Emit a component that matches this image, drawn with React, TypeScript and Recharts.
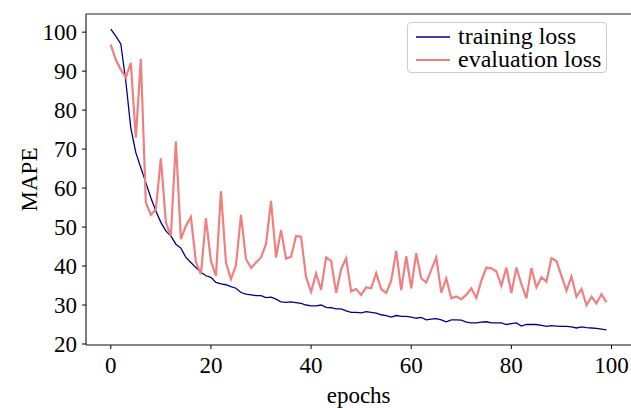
import React from "react";
import { LineChart, Line, XAxis, YAxis, ReferenceLine, Legend, Label } from "recharts";

const trainingLoss = [
  100.8, 99.0, 97.0, 87.4, 75.4, 69.1, 65.2, 61.4, 57.5, 54.1,
  51.2, 49.0, 47.7, 45.6, 44.6, 42.2, 40.9, 39.6, 38.4, 37.5,
  37.1, 35.8, 35.4, 35.2, 34.7, 34.3, 33.2, 32.8, 32.6, 32.4,
  32.4, 31.9, 32.0, 31.5, 30.8, 30.7, 30.8, 30.6, 30.4, 30.0,
  29.8, 29.8, 30.0, 29.4, 29.3, 29.0, 29.0, 28.5, 28.1, 28.1,
  28.0, 28.3, 28.1, 27.9, 27.5, 27.3, 26.9, 27.3, 27.1, 27.1,
  26.9, 26.6, 26.8, 26.2, 26.4, 26.5, 26.2, 25.7, 26.2, 26.2,
  26.1, 25.6, 25.4, 25.4, 25.6, 25.7, 25.4, 25.4, 25.4, 25.0,
  25.2, 25.4, 24.6, 25.0, 25.0, 25.0, 24.8, 24.5, 24.7, 24.6,
  24.5, 24.5, 24.4, 24.1, 24.4, 24.2, 24.1, 24.0, 23.8, 23.6,
];

const evaluationLoss = [
  96.8, 92.9, 90.4, 88.4, 92.1, 72.9, 93.1, 56.3, 53.1, 54.6,
  67.6, 51.2, 47.7, 72.0, 46.9, 50.3, 52.6, 41.0, 37.9, 52.3,
  41.3, 37.5, 59.2, 40.9, 36.6, 40.2, 53.1, 41.8, 39.5, 40.9,
  42.2, 45.6, 56.7, 42.2, 49.2, 41.9, 42.4, 47.7, 47.5, 37.1,
  33.4, 38.1, 33.9, 42.2, 41.3, 33.1, 39.2, 42.0, 33.5, 34.1,
  32.6, 34.5, 34.3, 38.2, 34.1, 33.1, 36.2, 43.9, 33.8, 42.5,
  34.3, 43.3, 36.8, 35.8, 39.0, 42.2, 33.2, 36.8, 31.7, 32.2,
  31.5, 32.6, 34.3, 31.8, 36.2, 39.6, 39.4, 38.6, 34.9, 39.6,
  33.1, 39.6, 35.4, 31.7, 39.5, 34.5, 37.1, 36.0, 42.0, 41.3,
  37.5, 33.7, 37.3, 32.1, 34.1, 30.0, 32.1, 30.4, 32.8, 30.7,
];

const seriesNames = ["training loss", "evaluation loss"];
const xTicks = [0, 20, 40, 60, 80, 100];
const yTicks = [20, 30, 40, 50, 60, 70, 80, 90, 100];
const xDomain: [number, number] = [-4.95, 103.95];
const yDomain: [number, number] = [19.74, 104.66];

const data = trainingLoss.map((t, i) => ({
  epoch: i,
  train: t,
  evalLoss: evaluationLoss[i],
}));

const FONT = '"Liberation Serif", "Times New Roman", serif';
const tickStyle = { fontSize: 23, fill: "#000", fontFamily: FONT };

const LegendBox = (props: any) => {
  const items = [...(props.payload || [])].sort(
    (a: any, b: any) => seriesNames.indexOf(a.value) - seriesNames.indexOf(b.value)
  );
  return (
    <div
      style={{
        position: "relative",
        width: 200,
        height: 51,
        border: "1px solid #cccccc",
        borderRadius: 4,
        background: "rgba(255,255,255,0.85)",
        boxSizing: "border-box",
        fontFamily: FONT,
        fontSize: 24,
        color: "#000",
      }}
    >
      {items.map((it: any, i: number) => (
        <div
          key={i}
          style={{ position: "absolute", left: 8, top: 1.5 + i * 23.3, height: 23, display: "flex", alignItems: "center", whiteSpace: "nowrap" }}
        >
          <svg width={34} height={4} style={{ marginRight: 8, marginTop: 2 }}>
            <line x1={0} y1={2} x2={34} y2={2} stroke={it.color} strokeWidth={i === 0 ? 1.3 : 2} />
          </svg>
          <span style={{ lineHeight: "23px", display: "block", height: 23 }}>{it.value}</span>
        </div>
      ))}
    </div>
  );
};

export default function App() {
  return (
    <div style={{ position: "absolute", left: 0, top: 0, width: 631, height: 408, overflow: "hidden", background: "#fff" }}>
      <LineChart
        width={640}
        height={408}
        data={data}
        margin={{ top: 14, right: 8.7, bottom: 0, left: 0 }}
        style={{ fontFamily: FONT }}
      >
        <XAxis
          dataKey="epoch"
          type="number"
          domain={xDomain}
          ticks={xTicks}
          allowDataOverflow
          height={63}
          tickSize={4}
          tickMargin={8}
          tick={tickStyle}
          stroke="#000"
          axisLine={{ stroke: "#111", strokeWidth: 1.1 }}
          tickLine={{ stroke: "#000" }}
        >
          <Label
            content={(p: any) => {
              const vb = p.viewBox;
              return (
                <text x={vb.x + vb.width / 2} y={vb.y + 58} textAnchor="middle" fontSize={23} fill="#000" fontFamily={FONT}>
                  epochs
                </text>
              );
            }}
          />
        </XAxis>
        <YAxis
          type="number"
          domain={yDomain}
          ticks={yTicks}
          allowDataOverflow
          width={86}
          tickSize={4}
          tickMargin={5}
          tick={tickStyle}
          stroke="#000"
          axisLine={{ stroke: "#111", strokeWidth: 1.1 }}
          tickLine={{ stroke: "#000" }}
        >
          <Label
            content={(p: any) => {
              const vb = p.viewBox;
              const cy = vb.y + vb.height / 2;
              return (
                <text x={37} y={cy} transform={`rotate(-90, 37, ${cy})`} textAnchor="middle" fontSize={23} fill="#000" fontFamily={FONT}>
                  MAPE
                </text>
              );
            }}
          />
        </YAxis>
        <ReferenceLine y={yDomain[1]} stroke="#222" strokeWidth={1.1} />
        <Line
          type="linear"
          dataKey="train"
          name={seriesNames[0]}
          stroke="#00008b"
          strokeWidth={1.3}
          dot={false}
          activeDot={false}
          isAnimationActive={false}
        />
        <Line
          type="linear"
          dataKey="evalLoss"
          name={seriesNames[1]}
          stroke="#f08080"
          strokeWidth={2.2}
          dot={false}
          activeDot={false}
          isAnimationActive={false}
        />
        <Legend
          layout="horizontal"
          verticalAlign="middle"
          align="center"
          content={<LegendBox />}
          wrapperStyle={{ position: "absolute", left: 407, top: 22, width: 200, height: 51, right: "auto", bottom: "auto" }}
        />
      </LineChart>
    </div>
  );
}
